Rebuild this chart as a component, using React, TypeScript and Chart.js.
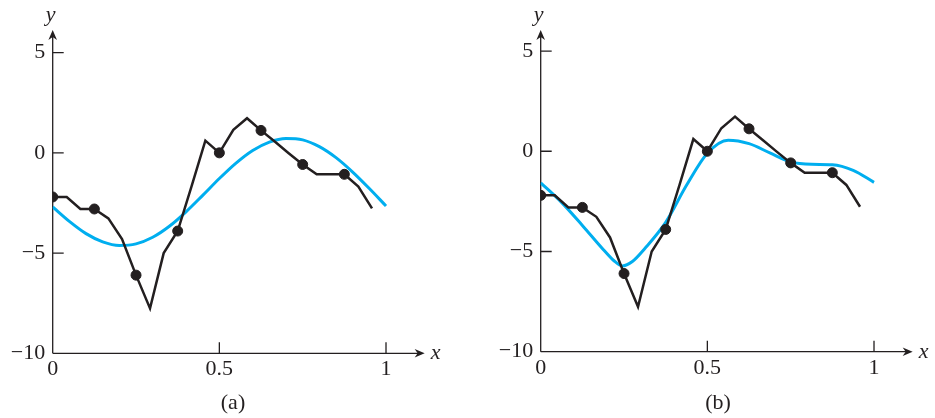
import React, { useEffect, useRef } from "react";
import { Chart, registerables } from "chart.js";

Chart.register(...registerables);

// ---- data ----
const LINE_X = [0, 0.042, 0.083, 0.125, 0.167, 0.208, 0.25, 0.292, 0.333, 0.375, 0.417, 0.458, 0.5, 0.542, 0.583, 0.625, 0.667, 0.708, 0.75, 0.792, 0.833, 0.875, 0.917, 0.958];
const LINE_Y = [-2.2, -2.2, -2.8, -2.8, -3.27, -4.3, -6.1, -7.76, -5.0, -3.9, -1.65, 0.61, 0.0, 1.15, 1.73, 1.12, 0.55, -0.02, -0.58, -1.07, -1.07, -1.07, -1.68, -2.77];

const DOT_X = [0, 0.125, 0.25, 0.375, 0.5, 0.625, 0.75, 0.875];
const DOT_Y = [-2.2, -2.8, -6.1, -3.9, 0.0, 1.12, -0.58, -1.07];

const FIT_A_X = [0, 0.05, 0.1, 0.15, 0.2, 0.25, 0.3, 0.35, 0.4, 0.45, 0.5, 0.55, 0.6, 0.65, 0.7, 0.75, 0.8, 0.85, 0.9, 0.95, 1.0];
const FIT_A_Y = [-2.7, -3.42, -4.03, -4.44, -4.62, -4.54, -4.21, -3.66, -2.94, -2.12, -1.28, -0.51, 0.12, 0.54, 0.72, 0.65, 0.31, -0.24, -0.96, -1.78, -2.65];

const FIT_B_X = [0, 0.0625, 0.125, 0.1875, 0.219, 0.245, 0.275, 0.3125, 0.375, 0.4375, 0.5, 0.5625, 0.625, 0.6875, 0.75, 0.8125, 0.875, 0.9375, 1.0];
const FIT_B_Y = [-1.57, -2.55, -3.7, -4.9, -5.45, -5.72, -5.5, -4.85, -3.55, -1.7, -0.1, 0.55, 0.38, -0.08, -0.53, -0.65, -0.67, -0.95, -1.55];

const X_TICKS = [0, 0.5, 1];
const Y_TICKS = [-10, -5, 0, 5];
const X_AXIS_END = 1.116;
const CAPTIONS = ["(a)", "(b)"];

const INK = "#231f20";
const BLUE = "#00aeef";
const SERIF = '"Liberation Serif", "Times New Roman", serif';

const pts = (xs: number[], ys: number[]) => xs.map((x, i) => ({ x, y: ys[i] }));

function arrow(ctx: CanvasRenderingContext2D, x: number, y: number, dir: "right" | "up") {
  ctx.save();
  ctx.translate(x, y);
  if (dir === "up") ctx.rotate(-Math.PI / 2);
  ctx.beginPath();
  ctx.moveTo(0, 0);
  ctx.lineTo(-10, -4.3);
  ctx.lineTo(-7, 0);
  ctx.lineTo(-10, 4.3);
  ctx.closePath();
  ctx.fill();
  ctx.restore();
}

const axesPlugin = {
  id: "bookAxes",
  beforeDatasetsDraw(chart: any) {
    const { ctx } = chart;
    const xs = chart.scales.x;
    const ys = chart.scales.y;
    const x0 = xs.getPixelForValue(0);
    const xEnd = xs.getPixelForValue(X_AXIS_END);
    const yB = ys.getPixelForValue(ys.min);
    const yT = ys.getPixelForValue(ys.max);
    ctx.save();
    ctx.strokeStyle = INK;
    ctx.fillStyle = INK;
    ctx.lineWidth = 1.3;
    ctx.beginPath();
    ctx.moveTo(x0, yB);
    ctx.lineTo(xEnd - 6, yB);
    ctx.moveTo(x0, yB);
    ctx.lineTo(x0, yT + 6);
    ctx.stroke();
    arrow(ctx, xEnd, yB, "right");
    arrow(ctx, x0, yT, "up");
    ctx.beginPath();
    xs.ticks.forEach((t: any) => {
      if (t.value === 0) return;
      const p = xs.getPixelForValue(t.value);
      ctx.moveTo(p, yB);
      ctx.lineTo(p, yB - 11);
    });
    ys.ticks.forEach((t: any) => {
      if (t.value === ys.min) return;
      const p = ys.getPixelForValue(t.value);
      ctx.moveTo(x0, p);
      ctx.lineTo(x0 + 11, p);
    });
    ctx.stroke();
    ctx.font = "italic 22px " + SERIF;
    ctx.textBaseline = "alphabetic";
    ctx.textAlign = "left";
    ctx.fillText("x", xEnd + 6, yB + 6);
    ctx.textAlign = "center";
    ctx.fillText("y", x0 - 2, yT - 9.5);
    ctx.restore();
  },
};

type PanelCfg = {
  fit: { x: number; y: number }[];
  caption: string;
  padR: number;
  yW: number;
  xH: number;
  xMax: number;
  yMax: number;
};

function makeConfig(c: PanelCfg): any {
  const fmt = (v: number) => (v < 0 ? "\u2212" + String(-v) : String(v));
  return {
    type: "scatter",
    data: {
      datasets: [
        {
          data: pts(DOT_X, DOT_Y),
          showLine: false,
          pointRadius: 5,
          pointBorderWidth: 1,
          pointBackgroundColor: INK,
          pointBorderColor: INK,
        },
        {
          data: pts(LINE_X, LINE_Y),
          showLine: true,
          borderColor: INK,
          borderWidth: 2.5,
          pointRadius: 0,
          tension: 0,
          borderJoinStyle: "miter",
        },
        {
          data: c.fit,
          showLine: true,
          borderColor: BLUE,
          borderWidth: 3,
          pointRadius: 0,
          cubicInterpolationMode: "monotone",
        },
      ],
    },
    options: {
      responsive: false,
      animation: false,
      events: [],
      layout: { autoPadding: false, padding: { left: 0, right: c.padR, top: 30, bottom: 0 } },
      plugins: {
        legend: { display: false },
        tooltip: { enabled: false },
        title: {
          display: true,
          text: c.caption,
          position: "bottom",
          color: INK,
          font: { family: SERIF, size: 22, weight: "normal" },
          padding: { top: 0, bottom: 2 },
        },
      },
      scales: {
        x: {
          type: "linear",
          min: 0,
          max: c.xMax,
          grid: { display: false, drawTicks: false },
          border: { display: false },
          afterBuildTicks: (s: any) => {
            s.ticks = X_TICKS.map((v) => ({ value: v }));
          },
          afterFit: (s: any) => {
            s.height = c.xH;
          },
          ticks: {
            autoSkip: false,
            maxRotation: 0,
            padding: 3,
            color: INK,
            font: { family: SERIF, size: 22 },
            callback: (v: number) => fmt(v),
          },
        },
        y: {
          type: "linear",
          min: -10,
          max: c.yMax,
          grid: { display: false, drawTicks: false },
          border: { display: false },
          afterBuildTicks: (s: any) => {
            s.ticks = Y_TICKS.map((v) => ({ value: v }));
          },
          afterFit: (s: any) => {
            s.width = c.yW;
          },
          ticks: {
            autoSkip: false,
            padding: 7.5,
            color: INK,
            font: { family: SERIF, size: 22 },
            callback: (v: number) => fmt(v),
          },
        },
      },
    },
    plugins: [axesPlugin],
  };
}

function Panel(props: { cfg: PanelCfg; left: number; width: number }) {
  const ref = useRef<HTMLCanvasElement | null>(null);
  useEffect(() => {
    if (!ref.current) return;
    const chart = new Chart(ref.current, makeConfig(props.cfg));
    return () => chart.destroy();
  }, []);
  return (
    <canvas
      ref={ref}
      width={props.width}
      height={418}
      style={{ position: "absolute", left: props.left, top: 0, width: props.width, height: 418 }}
    />
  );
}

export default function App() {
  const cfgA: PanelCfg = {
    fit: pts(FIT_A_X, FIT_A_Y),
    caption: CAPTIONS[0],
    padR: 0,
    yW: 52.7,
    xH: 36.3,
    xMax: 1.24,
    yMax: 6.13,
  };
  const cfgB: PanelCfg = {
    fit: pts(FIT_B_X, FIT_B_Y),
    caption: CAPTIONS[1],
    padR: 4,
    yW: 60.7,
    xH: 37.9,
    xMax: 1.246,
    yMax: 6.05,
  };
  return (
    <div
      style={{
        position: "absolute",
        left: 0,
        top: 0,
        width: 935,
        height: 418,
        overflow: "hidden",
        background: "#ffffff",
      }}
    >
      <Panel cfg={cfgA} left={0} width={466} />
      <Panel cfg={cfgB} left={480} width={480} />
    </div>
  );
}
